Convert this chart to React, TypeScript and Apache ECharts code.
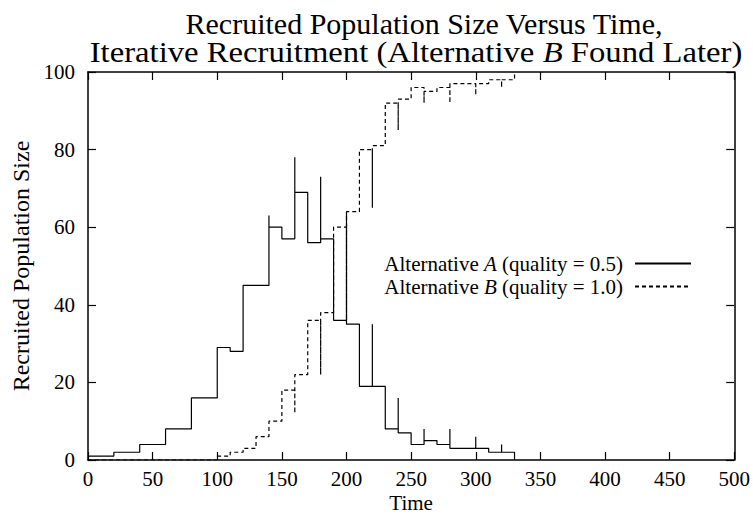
import React, { useEffect, useRef } from "react";
import * as echarts from "echarts";

// Step data: time stamps and recruited population sizes per alternative.
// Repeated time stamps produce the short vertical spikes of the step plot.
const timeA = [0, 20, 40, 60, 80, 100, 110, 120, 140, 140, 150, 160, 160, 170, 180, 180, 190, 200, 200, 210, 220, 220, 230, 240, 240, 250, 260, 260, 270, 280, 280, 300, 300, 310, 320, 320, 330];
const sizeA = [1, 2, 4, 8, 16, 29, 28, 45, 63, 60, 57, 78, 69, 56, 73, 57, 36, 64, 35, 19, 35, 19, 8, 16, 7, 4, 8, 5, 4, 8, 3, 6, 3, 2, 4, 2, 0];

const timeB = [0, 100, 110, 120, 130, 140, 150, 160, 160, 170, 180, 180, 190, 200, 200, 210, 220, 220, 230, 240, 240, 250, 260, 260, 270, 280, 280, 300, 300, 310, 320, 320, 330];
const sizeB = [0, 1, 2, 3, 6, 10, 18, 12, 22, 36, 22, 38, 60, 36, 64, 80, 65, 81, 92, 85, 93, 96, 92, 95, 96, 92, 97, 94, 97, 98, 96, 98, 100];

const seriesNames = ["Alternative A (quality = 0.5)", "Alternative B (quality = 1.0)"];
const titleLines = ["Recruited Population Size Versus Time,", "Iterative Recruitment (Alternative {i|B} Found Later)"];
const xTitle = "Time";
const yTitle = "Recruited Population Size";

const FONT = "'Liberation Serif', 'Times New Roman', serif";
const INK = "#000";

function pairs(xs: number[], ys: number[]) {
  return xs.map((x, i) => [x, ys[i]]);
}

export default function App() {
  const ref = useRef<HTMLDivElement>(null);

  useEffect(() => {
    if (!ref.current) return;
    const chart = echarts.init(ref.current, undefined, { renderer: "svg" });

    const axisLine = { show: true, onZero: false, lineStyle: { color: INK, width: 1.5 } };
    const axisTick = { show: true, inside: true, length: 8, lineStyle: { color: INK, width: 1.2 } };
    const label = { color: INK, fontFamily: FONT, fontSize: 21 };

    chart.setOption({
      animation: false,
      backgroundColor: "#fff",
      grid: { left: 88, right: 18, top: 72, bottom: 65 },
      xAxis: [
        {
          type: "value", min: 0, max: 500, interval: 50, position: "bottom",
          axisLine, axisTick, splitLine: { show: false },
          axisLabel: { ...label, margin: 10, lineHeight: 17 },
          name: xTitle, nameLocation: "middle", nameGap: 34, nameMoveOverlap: false,
          nameTextStyle: { ...label, lineHeight: 17 },
        },
        {
          type: "value", min: 0, max: 500, interval: 50, position: "top",
          axisLine, axisTick, splitLine: { show: false }, axisLabel: { show: false },
        },
      ],
      yAxis: [
        {
          type: "value", min: 0, max: 100, interval: 20, position: "left",
          axisLine, axisTick, splitLine: { show: false },
          axisLabel: { ...label, margin: 13 },
          name: yTitle, nameLocation: "middle", nameGap: 46,
          nameTextStyle: { ...label, fontSize: 24 },
        },
        {
          type: "value", min: 0, max: 100, interval: 20, position: "right",
          axisLine, axisTick, splitLine: { show: false }, axisLabel: { show: false },
        },
      ],
      legend: {
        show: true,
        orient: "vertical",
        align: "right",
        right: 56,
        top: 248,
        itemWidth: 56,
        itemHeight: 12,
        itemGap: 2,
        data: seriesNames,
        itemStyle: { opacity: 0 },
        formatter: (name: string) => name.replace(/Alternative (\w)/, "Alternative {i|$1}"),
        textStyle: {
          ...label,
          padding: [0, 7, 0, 0],
          rich: { i: { fontStyle: "italic", fontFamily: FONT, fontSize: 21, color: INK } },
        },
      },
      graphic: [
        {
          type: "text", x: 424, y: 23,
          style: {
            text: titleLines[0], fontFamily: FONT, fontSize: 30, fill: INK,
            textAlign: "center", textVerticalAlign: "middle",
          },
        },
        {
          type: "text", x: 416, y: 52, scaleX: 1.09,
          style: {
            text: titleLines[1], fontFamily: FONT, fontSize: 30, fill: INK,
            textAlign: "center", textVerticalAlign: "middle",
            rich: { i: { fontStyle: "italic", fontFamily: FONT, fontSize: 30, fill: INK } },
          },
        },
      ],
      series: [
        {
          name: seriesNames[0], type: "line", step: "end",
          data: pairs(timeA, sizeA), symbol: "none", showSymbol: false,
          lineStyle: { color: INK, width: 1.2, type: "solid" },
          itemStyle: { color: INK },
        },
        {
          name: seriesNames[1], type: "line", step: "end",
          data: pairs(timeB, sizeB), symbol: "none", showSymbol: false,
          lineStyle: { color: INK, width: 1.2, type: [4, 3] },
          itemStyle: { color: INK },
        },
      ],
    });

    return () => chart.dispose();
  }, []);

  return (
    <div
      ref={ref}
      style={{ position: "fixed", left: 0, top: 0, width: 753, height: 525, background: "#fff" }}
    />
  );
}
